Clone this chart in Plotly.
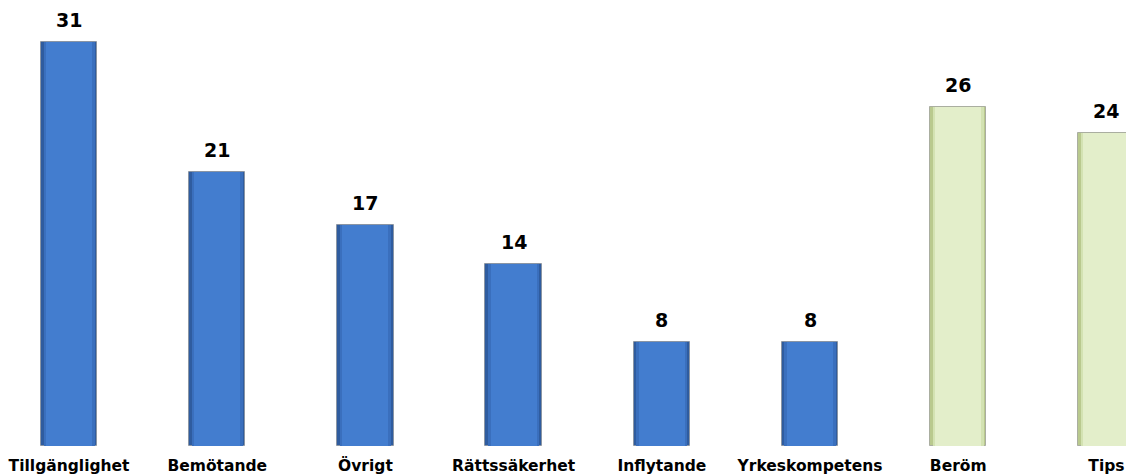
import plotly.graph_objects as go

categories = ["Tillgänglighet", "Bemötande", "Övrigt", "Rättssäkerhet",
              "Inflytande", "Yrkeskompetens", "Beröm", "Tips"]
values = [31, 21, 17, 14, 8, 8, 26, 24]
groups = ["blue", "blue", "blue", "blue", "blue", "blue", "green", "green"]

edge_colors = {"blue": "#2f5c9f", "green": "#b9c98e"}
mid_colors = {"blue": "#3a6fbd", "green": "#d3e2b2"}
body_colors = {"blue": "#437dcf", "green": "#e3eeca"}

xs = list(range(len(categories)))

fig = go.Figure()
fig.add_trace(go.Bar(
    x=xs, y=values, width=0.38,
    marker=dict(color=[edge_colors[g] for g in groups],
                line=dict(color="rgba(130,130,130,0.55)", width=1)),
    hoverinfo="skip", showlegend=False))
fig.add_trace(go.Bar(
    x=xs, y=values, width=0.345,
    marker=dict(color=[mid_colors[g] for g in groups], line=dict(width=0)),
    hoverinfo="skip", showlegend=False))
fig.add_trace(go.Bar(
    x=xs, y=values, width=0.31,
    marker=dict(color=[body_colors[g] for g in groups], line=dict(width=0)),
    hoverinfo="skip", showlegend=False))

for x, v in zip(xs, values):
    fig.add_annotation(x=x, y=v, text=str(v), showarrow=False,
                       yanchor="bottom", yshift=9,
                       font=dict(family="DejaVu Sans", size=19, color="#000000", weight="bold"))

fig.update_layout(
    width=1126, height=474,
    margin=dict(l=0, r=0, t=0, b=28),
    paper_bgcolor="white", plot_bgcolor="white",
    barmode="overlay", bargap=0,
    xaxis=dict(range=[-0.466, 7.132], tickmode="array", tickvals=xs,
               ticktext=categories, showgrid=False, zeroline=False, showline=False,
               ticks="", ticklabelstandoff=8, automargin=False,
               tickfont=dict(family="DejaVu Sans", size=15.5, color="#000000", weight="bold")),
    yaxis=dict(range=[0, 34.23], visible=False, showgrid=False, zeroline=False,
               automargin=False),
)

fig.write_html("out.html")
